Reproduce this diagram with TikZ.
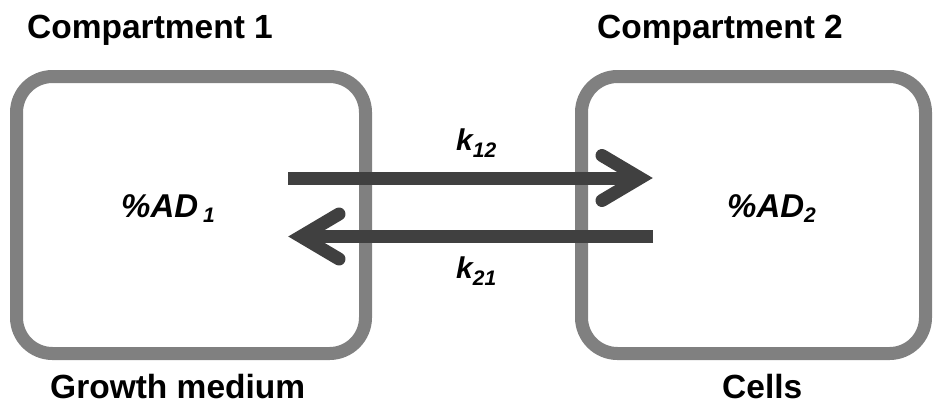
\documentclass[tikz,border=0pt]{standalone}
\usepackage{fontspec}
\setmainfont{Liberation Sans}
\usetikzlibrary{calc}
\definecolor{boxgray}{HTML}{808080}
\definecolor{arrowgray}{HTML}{404040}
\tikzset{
  compbox/.style={draw=boxgray, line width=13pt, rounded corners=36pt, fill=none},
  headtxt/.style={anchor=base west, inner sep=0pt, font=\fontsize{33.5}{40}\selectfont\bfseries},
  vartxt/.style={anchor=base west, inner sep=0pt, font=\fontsize{33}{38}\selectfont\bfseries\itshape},
  ktxt/.style={anchor=base west, inner sep=0pt, font=\fontsize{30}{34}\selectfont\bfseries\itshape},
  shaft/.style={draw=arrowgray, line width=13pt, line cap=butt},
  chev/.style={draw=arrowgray, line width=13pt, line cap=round, line join=miter}
}
\begin{document}
\begin{tikzpicture}[x=1pt, y=-1pt]
\useasboundingbox (0,0) rectangle (933,410);
% compartments
\draw[compbox] (16.5,76.5) rectangle (365.5,353.5);
\draw[compbox] (581.5,76.5) rectangle (925.5,353.5);
\coordinate (c1) at (191,215);
\coordinate (c2) at (753.5,215);
% labels
\node[headtxt] (h1) at (27,38) {Compartment 1};
\node[headtxt] (h2) at (597,38) {Compartment 2};
\node[headtxt] (f1) at (50,398) {Growth medium};
\node[headtxt] (f2) at (722,398) {Cells};
\node[vartxt] (v1) at (121,217) {\%AD\hspace{5pt}{\fontsize{21}{21}\selectfont\raisebox{-5pt}{1}}};
\node[vartxt] (v2) at (727,217) {\%AD{\fontsize{21}{21}\selectfont\raisebox{-5pt}{2}}};
% arrows
\coordinate (s1) at (288,178);
\coordinate (t1) at (640,178);
\coordinate (s2) at (653,236.5);
\coordinate (t2) at (301,236.5);
\draw[shaft] (s1) -- (t1);
\draw[chev] ($(t1)+(-38,-22.5)$) -- (t1) -- ($(t1)+(-38,22.5)$);
\draw[shaft] (s2) -- (t2);
\draw[chev] ($(t2)+(38,-22.5)$) -- (t2) -- ($(t2)+(38,22.5)$);
\node[ktxt] (k12) at (456,150) {k{\fontsize{21}{21}\selectfont\raisebox{-7pt}{12}}};
\node[ktxt] (k21) at (456,278) {k{\fontsize{21}{21}\selectfont\raisebox{-7pt}{21}}};
\end{tikzpicture}
\end{document}
